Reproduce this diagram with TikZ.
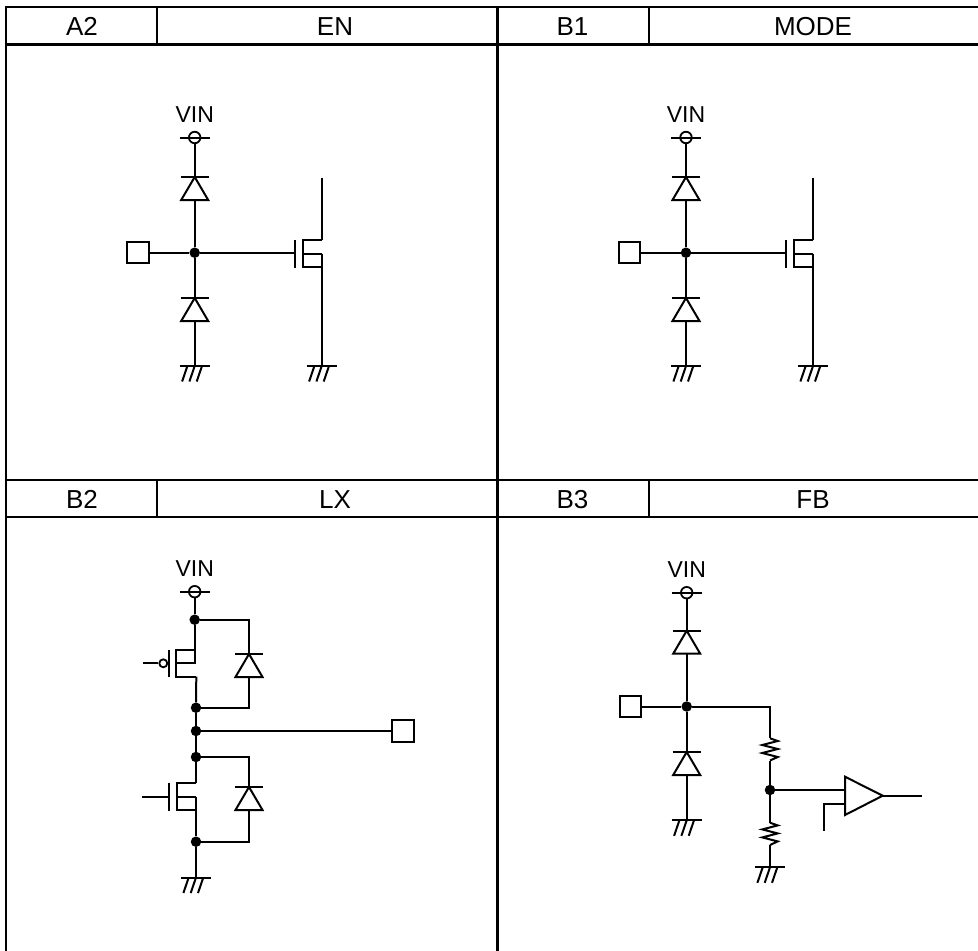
\documentclass[tikz,border=0pt]{standalone}
\usepackage{fontspec}
\setmainfont{Liberation Sans}
\newcommand{\HdrFont}{\fontsize{26}{28}\selectfont}
\newcommand{\VinFont}{\fontsize{23}{25}\selectfont}
\tikzset{
  wire/.style={line width=2pt,line cap=butt,line join=miter},
  tableline/.style={line width=2.2pt},
  dot/.style={circle,fill=black,draw=none,minimum size=10.5pt,inner sep=0pt},
  pinbox/.style={rectangle,draw,line width=2pt,minimum size=21.5pt,inner sep=0pt},
  vinring/.style={circle,draw,line width=1.8pt,minimum size=11.5pt,inner sep=0pt},
  invring/.style={circle,draw,line width=1.8pt,minimum size=8pt,inner sep=0pt},
  hdr/.style={font=\HdrFont,inner sep=0pt,text height=19pt,text depth=0pt},
  vinlabel/.style={font=\VinFont,inner sep=0pt,text height=16.5pt,text depth=0pt}
}
% name, x, y of cathode bar
\newcommand{\Diode}[3]{%
  \coordinate (#1k) at (#2,#3);
  \coordinate (#1a) at (#2,#3+23);
  \draw[wire] (#2-14,#3) -- (#2+14,#3);
  \draw[wire] (#2,#3) -- (#2-13.5,#3+23) -- (#2+13.5,#3+23) -- cycle;}
% name, x, y of bar
\newcommand{\Gnd}[3]{%
  \coordinate (#1) at (#2,#3);
  \draw[wire] (#2-15,#3) -- (#2+15,#3);
  \draw[wire] (#2-7.3,#3) -- (#2-12.6,#3+15.5);
  \draw[wire] (#2,#3) -- (#2-5.3,#3+15.5);
  \draw[wire] (#2+7.3,#3) -- (#2+2,#3+15.5);}
% name, x, y of ring
\newcommand{\Vin}[3]{%
  \node[vinring] (#1) at (#2,#3) {};
  \draw[wire] (#2-15,#3) -- (#2+15,#3);
  \node[vinlabel,anchor=base] (#1t) at (#2,#3-15) {VIN};}
% name, gate bar x, top y, right x : channel, gate bar and the three stubs
\newcommand{\Fet}[4]{%
  \coordinate (#1g) at (#2,#3+13.5);
  \coordinate (#1d) at (#4,#3);
  \coordinate (#1b) at (#4,#3+13.5);
  \coordinate (#1s) at (#4,#3+27);
  \draw[wire] (#2,#3) -- (#2,#3+27.5);
  \draw[wire] (#1d) -- (#2+7.5,#3) -- (#2+7.5,#3+27) -- (#1s);
  \draw[wire] (#2+7.5,#3+13.5) -- (#1b);}
\begin{document}
\begin{tikzpicture}[x=1pt,y=-1pt]
\useasboundingbox (0,0) rectangle (978,951);
% table
\coordinate (tl) at (6,7);
\coordinate (tr) at (978,7);
\coordinate (bl) at (6,951);
\draw[tableline] (bl) -- (tl) -- (tr);
\draw[tableline] (6,44.5) -- (978,44.5);
\draw[tableline] (6,480) -- (978,480);
\draw[tableline] (6,517.3) -- (978,517.3);
\draw[tableline] (497.5,7) -- (497.5,951);
\draw[tableline] (157,7) -- (157,44.5);
\draw[tableline] (648.7,7) -- (648.7,44.5);
\draw[tableline] (157,480) -- (157,517.3);
\draw[tableline] (648.7,480) -- (648.7,517.3);
\node[hdr] (h1) at (82,25.5) {A2};
\node[hdr] (h2) at (335,25.5) {EN};
\node[hdr] (h3) at (572.5,25.5) {B1};
\node[hdr] (h4) at (813,25.5) {MODE};
\node[hdr] (h5) at (82,498.5) {B2};
\node[hdr] (h6) at (335,498.5) {LX};
\node[hdr] (h7) at (572.5,498.5) {B3};
\node[hdr] (h8) at (813,498.5) {FB};

% panel EN
\Vin{av}{194.7}{137.5}
\Diode{ad1}{194.7}{177}
\Diode{ad2}{194.7}{298}
\Gnd{ag1}{194.7}{366}
\Gnd{ag2}{321.7}{366}
\node[dot] (aj) at (194.7,252.7) {};
\node[pinbox] (ap) at (138,252.7) {};
\Fet{af}{295}{240}{321.7}
\coordinate (at) at (321.7,177.5);
\coordinate (ajg) at (295,252.7);
\draw[wire] (av) -- (ad1k);
\draw[wire] (ad1a) -- (aj);
\draw[wire] (aj) -- (ad2k);
\draw[wire] (ad2a) -- (ag1);
\draw[wire] (ap) -- (aj);
\draw[wire] (aj) -- (ajg);
\draw[wire] (at) -- (afd);
\draw[wire] (afb) -- (ag2);

% panel MODE
\Vin{bv}{686}{137.5}
\Diode{bd1}{686}{177}
\Diode{bd2}{686}{298}
\Gnd{bg1}{686}{366}
\Gnd{bg2}{813}{366}
\node[dot] (bj) at (686,252.7) {};
\node[pinbox] (bp) at (629.3,252.7) {};
\Fet{bf}{786.3}{240}{813}
\coordinate (bt) at (813,177.5);
\coordinate (bjg) at (786.3,252.7);
\draw[wire] (bv) -- (bd1k);
\draw[wire] (bd1a) -- (bj);
\draw[wire] (bj) -- (bd2k);
\draw[wire] (bd2a) -- (bg1);
\draw[wire] (bp) -- (bj);
\draw[wire] (bj) -- (bjg);
\draw[wire] (bt) -- (bfd);
\draw[wire] (bfb) -- (bg2);

% panel LX
\Vin{cv}{194.7}{591.7}
\node[dot] (c1) at (194.7,619.7) {};
\node[dot] (c2) at (196,707.7) {};
\node[dot] (c3) at (196,731) {};
\node[dot] (c4) at (196,757) {};
\node[dot] (c5) at (196,841.7) {};
\node[pinbox] (cp) at (403.2,731) {};
\Diode{cd1}{249}{654}
\Diode{cd2}{249}{787}
\Gnd{cg}{196}{877.5}
\coordinate (cr1) at (249,619.7);
\coordinate (cr2) at (249,707.7);
\coordinate (cr3) at (249,757);
\coordinate (cr4) at (249,841.7);
% PMOS
\coordinate (pd) at (194.7,650);
\coordinate (pb) at (194.7,663.3);
\coordinate (ps) at (196.3,676.5);
\draw[wire] (168.5,649.5) -- (168.5,676.7);
\draw[wire] (pd) -- (176,650) -- (176,676.5) -- (ps);
\draw[wire] (176,663.3) -- (pb) -- (pd);
\draw[wire] (c1) -- (pd);
\draw[wire] (ps) -- (c2);
\node[invring] (pi) at (163.3,663.3) {};
\coordinate (pg) at (143.3,663.3);
\draw[wire] (pg) -- (pi);
% NMOS
\coordinate (nd) at (196,782.7);
\coordinate (nb) at (196,796.7);
\coordinate (ng) at (169,796.7);
\coordinate (ngi) at (142.3,796.7);
\draw[wire] (169,782.7) -- (169,810.7);
\draw[wire] (nd) -- (176.7,782.7) -- (176.7,810) -- (196,810);
\draw[wire] (176.7,796.7) -- (nb);
\draw[wire] (ngi) -- (ng);
\draw[wire] (c4) -- (nd);
\draw[wire] (nb) -- (c5);
% LX wires
\draw[wire] (cv) -- (c1);
\draw[wire] (c1) -- (cr1) -- (cd1k);
\draw[wire] (cd1a) -- (cr2) -- (c2);
\draw[wire] (c2) -- (c3);
\draw[wire] (c3) -- (c4);
\draw[wire] (c3) -- (cp);
\draw[wire] (c4) -- (cr3) -- (cd2k);
\draw[wire] (cd2a) -- (cr4) -- (c5);
\draw[wire] (c5) -- (cg);

% panel FB
\Vin{dv}{686.7}{592.7}
\Diode{dd1}{686.7}{630.7}
\Diode{dd2}{686.7}{752}
\Gnd{dg1}{686.7}{820.3}
\Gnd{dg2}{770}{867.3}
\node[dot] (dj) at (686.7,706.5) {};
\node[dot] (dm) at (770,790) {};
\node[pinbox] (dp) at (630.3,706.5) {};
\coordinate (dc) at (770,706.5);
\coordinate (dr1a) at (770,738.3);
\coordinate (dr1b) at (770,760.5);
\coordinate (dr2a) at (770,822.7);
\coordinate (dr2b) at (770,845);
\draw[wire] (dv) -- (dd1k);
\draw[wire] (dd1a) -- (dj);
\draw[wire] (dj) -- (dd2k);
\draw[wire] (dd2a) -- (dg1);
\draw[wire] (dp) -- (dj);
\draw[wire] (dj) -- (dc) -- (dr1a);
\draw[wire] (dr1a) -- (777.7,741) -- (762.3,745) -- (777.7,749) -- (762.3,753) -- (777.7,757) -- (dr1b);
\draw[wire] (dr1b) -- (dm);
\draw[wire] (dm) -- (dr2a);
\draw[wire] (dr2a) -- (777.7,825.4) -- (762.3,829.4) -- (777.7,833.4) -- (762.3,837.4) -- (777.7,841.4) -- (dr2b);
\draw[wire] (dr2b) -- (dg2);
% comparator
\coordinate (cpl) at (845,790);
\coordinate (cmi) at (845,804);
\coordinate (cmc) at (824,804);
\coordinate (cme) at (824,831);
\coordinate (cpo) at (882.7,795.7);
\coordinate (cpe) at (921.7,795.7);
\draw[wire] (845,776.7) -- (cpo) -- (845,815) -- cycle;
\draw[wire] (dm) -- (cpl);
\draw[wire] (cmi) -- (cmc) -- (cme);
\draw[wire] (cpo) -- (cpe);
\end{tikzpicture}
\end{document}
